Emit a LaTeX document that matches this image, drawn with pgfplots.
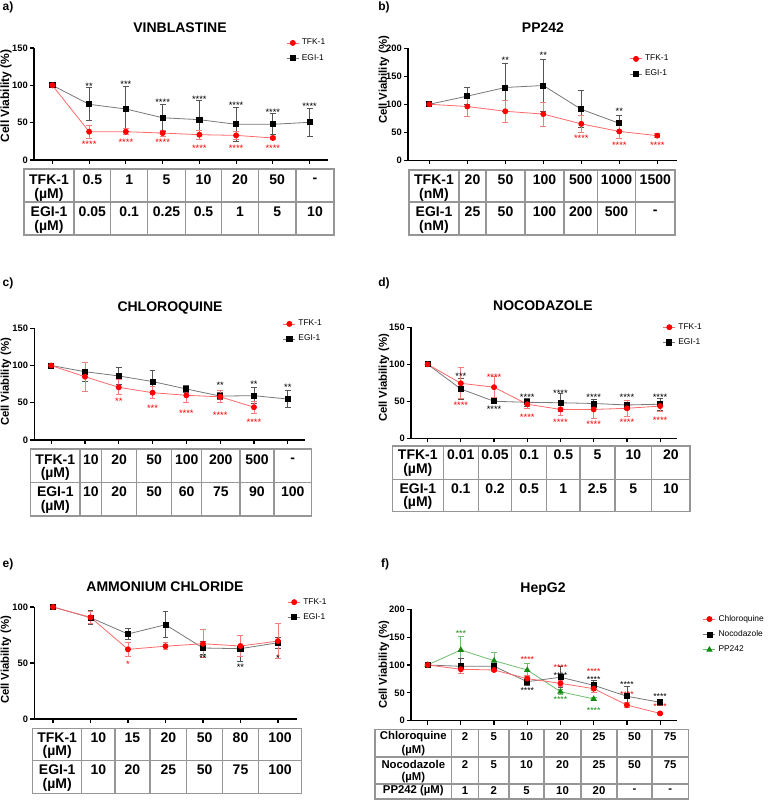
\documentclass[border=0pt]{standalone}
\usepackage{pgfplots}
\pgfplotsset{compat=1.18}
\usepackage{fontspec}
\setmainfont{Liberation Sans}
\definecolor{lred}{RGB}{255,105,105}
\definecolor{ered}{RGB}{245,125,125}
\definecolor{lgray}{RGB}{120,120,120}
\definecolor{egray}{RGB}{85,85,85}
\definecolor{pgreen}{RGB}{20,140,20}
\definecolor{lgreen}{RGB}{110,190,110}
\definecolor{tline}{RGB}{150,150,150}
\newcommand\tf{\fontsize{10.5}{12}\selectfont\bfseries}
\newcommand\tff{\fontsize{8.5}{10}\selectfont\bfseries}
\pgfplotsset{
 cv/.style={scale only axis, anchor=south west, axis lines*=left, axis line style={line width=1.1pt}, tick align=outside, major tick length=3pt, tick style={black, line width=0.9pt}, ymin=0, clip=false, /pgf/number format/assume math mode=true, yticklabel style={font=\bfseries\fontsize{7}{8}\selectfont, inner sep=1.5pt}, xticklabels={}, reverse legend, legend cell align=left, legend style={draw=none, fill=none, font=\fontsize{6.3}{7.5}\selectfont, anchor=north west, row sep=1.5pt}, legend image code/.code={\draw[mark repeat=2,mark phase=2] plot coordinates {(0pt,0pt)(4.5pt,0pt)(9pt,0pt)};}},
 tfk/.style={color=lred, line width=0.6pt, mark=*, mark size=1.9pt, mark options={solid, fill=red, draw=red}, error bars/y dir=both, error bars/y explicit, error bars/error bar style={ered, line width=0.6pt}, error bars/error mark options={rotate=90, ered, mark size=2.2pt, line width=0.6pt}},
 egi/.style={color=lgray, line width=0.6pt, mark=square*, mark size=1.9pt, mark options={solid, fill=black, draw=black}, error bars/y dir=both, error bars/y explicit, error bars/error bar style={egray, line width=0.6pt}, error bars/error mark options={rotate=90, egray, mark size=2.2pt, line width=0.6pt}},
 ppg/.style={color=lgreen, line width=0.6pt, mark=triangle*, mark size=2.2pt, mark options={solid, fill=pgreen, draw=pgreen}, error bars/y dir=both, error bars/y explicit, error bars/error bar style={lgreen, line width=0.6pt}, error bars/error mark options={rotate=90, lgreen, mark size=2.2pt, line width=0.6pt}},
}
\tikzset{
 stn/.style={font=\fontsize{7}{7}\selectfont, inner sep=0pt, yshift=-1.5pt},
 stf/.style={font=\fontsize{6.5}{6.5}\selectfont, inner sep=0pt, yshift=-1.4pt},
 tb/.style={draw=tline, line width=0.8pt},
 ttl/.style={font=\fontsize{10.5}{12}\selectfont\bfseries},
 yl/.style={font=\fontsize{8.5}{10}\selectfont\bfseries, rotate=90},
 pl/.style={font=\fontsize{9}{10}\selectfont\bfseries},
}
\begin{document}
\begin{tikzpicture}[x=0.75pt,y=0.75pt]
\useasboundingbox (0,0) rectangle (770,-800);

% ---------------- labels, titles ----------------
\node[pl] at (8,-7) {a)};
\node[pl] at (384,-7) {b)};
\node[pl] at (8,-283) {c)};
\node[pl] at (384,-283) {d)};
\node[pl] at (8,-564) {e)};
\node[pl] at (385,-564) {f)};
\node[ttl] at (180,-28) {VINBLASTINE};
\node[ttl] at (543,-28) {PP242};
\node[ttl] at (170,-308) {CHLOROQUINE};
\node[ttl] at (543,-306) {NOCODAZOLE};
\node[ttl] at (165,-587) {AMMONIUM CHLORIDE};
\node[ttl] at (543,-589) {HepG2};
\node[yl, font=\fontsize{9}{10}\selectfont\bfseries] at (6,-96) {Cell Viability (\%)};
\node[yl] at (384,-80) {Cell Viability (\%)};
\node[yl] at (6,-382) {Cell Viability (\%)};
\node[yl] at (384,-378) {Cell Viability (\%)};
\node[yl] at (6,-660) {Cell Viability (\%)};
\node[yl] at (384,-665) {Cell Viability (\%)};

% ---------------- a) VINBLASTINE ----------------
\begin{axis}[cv, at={(25.5pt,-120pt)}, width=220.5pt, height=84pt, xmin=-0.5, xmax=7.5, ymax=150, ytick={0,50,100,150}, xtick={0,...,7}, legend style={at={(0.844,1.13)}}]
\addplot[egi] coordinates {(0,100) (1,74.6) +- (0,22) (2,68.3) +- (0,30) (3,56.6) +- (0,18.5) (4,54) +- (0,26) (5,47.8) +- (0,22.5) (6,47.8) +- (0,14) (7,50.5) +- (0,18.5)};
\addplot[tfk] coordinates {(0,100) (1,37.9) +- (0,9) (2,37.9) +- (0,4) (3,36.1) +- (0,4) (4,33.9) +- (0,6.2) (5,33) +- (0,5) (6,29.5) +- (0,2.5)};
\legend{EGI-1,TFK-1}
\node[stn] at (axis cs:1,101.7) {**};
\node[stn] at (axis cs:2,103.5) {***};
\node[stn] at (axis cs:3,79.4) {****};
\node[stn] at (axis cs:4,84) {****};
\node[stn] at (axis cs:5,75.4) {****};
\node[stn] at (axis cs:6,67) {****};
\node[stn] at (axis cs:7,75) {****};
\node[stn,text=red] at (axis cs:1,23.7) {****};
\node[stn,text=red] at (axis cs:2,25.9) {****};
\node[stn,text=red] at (axis cs:3,25.9) {****};
\node[stn,text=red] at (axis cs:4,18.7) {****};
\node[stn,text=red] at (axis cs:5,18.7) {****};
\node[stn,text=red] at (axis cs:6,18.7) {****};
\end{axis}

% ---------------- b) PP242 ----------------
\begin{axis}[cv, at={(306pt,-120.2pt)}, width=201.5pt, height=84pt, xmin=-0.56, xmax=6.51, ymax=200, ytick={0,50,100,150,200}, xtick={0,...,6}, legend style={at={(0.809,0.99)}}]
\addplot[egi] coordinates {(0,100) (1,114.5) +- (0,15.5) (2,130) +- (0,43) (3,133.5) +- (0,46.5) (4,91) +- (0,33) (5,66) +- (0,15)};
\addplot[tfk] coordinates {(0,100) (1,96) +- (0,18) (2,87.5) +- (0,20) (3,82.5) +- (0,21.5) (4,65) +- (0,16) (5,51.5) +- (0,13) (6,44) +- (0,4)};
\legend{EGI-1,TFK-1}
\node[stn] at (axis cs:2,182) {**};
\node[stn] at (axis cs:3,191) {**};
\node[stn] at (axis cs:5,91) {**};
\node[stn,text=red] at (axis cs:4,43) {****};
\node[stn,text=red] at (axis cs:5,31) {****};
\node[stn,text=red] at (axis cs:6,31) {****};
\end{axis}

% ---------------- c) CHLOROQUINE ----------------
\begin{axis}[cv, at={(25.7pt,-330pt)}, width=202.8pt, height=83.8pt, xmin=-0.5, xmax=7.5, ymax=150, ytick={0,50,100,150}, xtick={0,...,7}, legend style={at={(0.904,1.124)}}]
\addplot[egi] coordinates {(0,100) (1,91.7) +- (0,12.5) (2,86) +- (0,11) (3,78.5) +- (0,14.5) (4,68.5) +- (0,4.5) (5,59) +- (0,5) (6,59.5) +- (0,11) (7,55) +- (0,11)};
\addplot[tfk] coordinates {(0,100) (1,85) +- (0,19.5) (2,70.7) +- (0,10) (3,63.5) +- (0,8) (4,60) +- (0,10) (5,58) +- (0,8) (6,44) +- (0,8)};
\legend{EGI-1,TFK-1}
\node[stn] at (axis cs:5,76) {**};
\node[stn] at (axis cs:6,77) {**};
\node[stn] at (axis cs:7,74) {**};
\node[stn,text=red] at (axis cs:2,54.6) {**};
\node[stn,text=red] at (axis cs:3,44.7) {***};
\node[stn,text=red] at (axis cs:4,39) {****};
\node[stn,text=red] at (axis cs:5,36) {****};
\node[stn,text=red] at (axis cs:6,27) {****};
\end{axis}

% ---------------- d) NOCODAZOLE ----------------
\begin{axis}[cv, at={(308.25pt,-328.7pt)}, width=199.3pt, height=83.25pt, xmin=-0.5, xmax=7.5, ymax=150, ytick={0,50,100,150}, xtick={0,...,7}, legend style={at={(0.932,1.086)}}]
\addplot[egi] coordinates {(0,100) (1,66.6) +- (0,14) (2,50) +- (0,3) (3,48.6) +- (0,5) (4,48) +- (0,12) (5,47) +- (0,5) (6,45) +- (0,6) (7,46) +- (0,8)};
\addplot[tfk] coordinates {(0,100) (1,74.3) +- (0,21) (2,69) +- (0,14) (3,46) +- (0,6) (4,39) +- (0,8) (5,39) +- (0,11.5) (6,40.5) +- (0,11) (7,43.5) +- (0,7)};
\legend{EGI-1,TFK-1}
\node[stn] at (axis cs:1,87) {***};
\node[stn] at (axis cs:2,42) {****};
\node[stn] at (axis cs:3,58.5) {****};
\node[stn] at (axis cs:4,64) {****};
\node[stn] at (axis cs:5,58.5) {****};
\node[stn] at (axis cs:6,58) {****};
\node[stn] at (axis cs:7,58.5) {****};
\node[stn,text=red] at (axis cs:1,47) {****};
\node[stn,text=red] at (axis cs:2,85.5) {****};
\node[stn,text=red] at (axis cs:3,31.5) {****};
\node[stn,text=red] at (axis cs:4,24) {****};
\node[stn,text=red] at (axis cs:5,21) {****};
\node[stn,text=red] at (axis cs:6,24) {****};
\node[stn,text=red] at (axis cs:7,27) {****};
\end{axis}

% ---------------- e) AMMONIUM CHLORIDE ----------------
\begin{axis}[cv, at={(25.7pt,-539.25pt)}, width=196.8pt, height=84pt, xmin=-0.5, xmax=6.5, ymax=100, ytick={0,50,100}, xtick={0,...,6}, legend style={at={(0.95,1.128)}}]
\addplot[egi] coordinates {(0,100) (1,90.5) +- (0,6.2) (2,75.9) +- (0,4.7) (3,84.2) +- (0,11.5) (4,63.4) +- (0,6) (5,62.8) +- (0,11.5) (6,68.1) +- (0,5)};
\addplot[tfk] coordinates {(0,100) (1,90.8) +- (0,5) (2,62.2) +- (0,6) (3,65) +- (0,3) (4,67.2) +- (0,12.5) (5,65.2) +- (0,9.5) (6,69.6) +- (0,15.5)};
\legend{EGI-1,TFK-1}
\node[stn,text=red] at (axis cs:2,50.3) {*};
\node[stn] at (axis cs:4,56) {**};
\node[stn] at (axis cs:5,48) {**};
\node[stn] at (axis cs:6,56) {*};
\end{axis}

% ---------------- f) HepG2 ----------------
\begin{axis}[cv, at={(308.25pt,-540.5pt)}, width=199.3pt, height=83.55pt, xmin=-0.5, xmax=7.5, ymax=200, ytick={0,50,100,150,200}, xtick={0,...,7}, legend style={at={(1.083,0.999)}}]
\addplot[ppg] coordinates {(0,100) (1,127) +- (0,24) (2,107.7) +- (0,15) (3,91) +- (0,12) (4,52) +- (0,4) (5,39) +- (0,2)};
\addplot[egi] coordinates {(0,100) (1,97.6) +- (0,13.5) (2,97.6) +- (0,5) (3,70) +- (0,6) (4,78) +- (0,19) (5,63.5) +- (0,8) (6,43.8) +- (0,17) (7,33) +- (0,5)};
\addplot[tfk] coordinates {(0,100) (1,92.3) +- (0,8) (2,91) +- (0,3) (3,75.5) +- (0,6) (4,67) +- (0,6) (5,57.5) +- (0,7) (6,28) +- (0,5) (7,13) +- (0,2)};
\legend{PP242,Nocodazole,Chloroquine}
\node[stf,text=pgreen] at (axis cs:1,160) {***};
\node[stf,text=pgreen] at (axis cs:4,41.3) {****};
\node[stf,text=pgreen] at (axis cs:5,22) {****};
\node[stf,text=red] at (axis cs:3,113) {****};
\node[stf,text=red] at (axis cs:4,98.5) {****};
\node[stf,text=red] at (axis cs:5,91) {****};
\node[stf,text=red] at (axis cs:6,50) {****};
\node[stf,text=red] at (axis cs:7,29.5) {****};
\node[stf] at (axis cs:3,58) {****};
\node[stf] at (axis cs:4,85) {****};
\node[stf] at (axis cs:5,76.7) {****};
\node[stf] at (axis cs:6,69) {****};
\node[stf] at (axis cs:7,46) {****};
\end{axis}

% ---------------- tables ----------------
% a
\draw[tb] (24,-169) rectangle (334,-235);
\draw[tb] (24,-202) -- (334,-202);
\foreach \x in {74,110.7,147.7,185.3,221.7,258.3,296} \draw[tb] (\x,-169) -- (\x,-235);
\node[font=\tf] at (49,-180) {TFK-1};
\node[font=\tf] at (49,-195) {(µM)};
\node[font=\tf] at (49,-212) {EGI-1};
\node[font=\tf] at (49,-227) {(µM)};
\foreach \x/\t in {92.35/0.5,129.2/1,166.5/5,203.5/10,240/20,277.15/50,315/-} \node[font=\tf] at (\x,-180) {\t};
\foreach \x/\t in {92.35/0.05,129.2/0.1,166.5/0.25,203.5/0.5,240/1,277.15/5,315/10} \node[font=\tf] at (\x,-212) {\t};
% b
\draw[tb] (409,-170) rectangle (675,-235);
\draw[tb] (409,-202) -- (675,-202);
\foreach \x in {459,486,525,564,597.3,635.7} \draw[tb] (\x,-170) -- (\x,-235);
\node[font=\tf] at (434,-180) {TFK-1};
\node[font=\tf] at (434,-195) {(nM)};
\node[font=\tf] at (434,-212) {EGI-1};
\node[font=\tf] at (434,-227) {(nM)};
\foreach \x/\t in {472.5/20,505.5/50,544.5/100,580.7/500,616.5/1000,655.3/1500} \node[font=\tf] at (\x,-180) {\t};
\foreach \x/\t in {472.5/25,505.5/50,544.5/100,580.7/200,616.5/500,655.3/-} \node[font=\tf] at (\x,-212) {\t};
% c
\draw[tb] (30.7,-449) rectangle (311.7,-516);
\draw[tb] (30.7,-482.3) -- (311.7,-482.3);
\foreach \x in {80,101.7,136.7,171.7,201.7,240,274} \draw[tb] (\x,-449) -- (\x,-516);
\node[font=\tf] at (55.3,-460) {TFK-1};
\node[font=\tf] at (55.3,-474) {(µM)};
\node[font=\tf] at (55.3,-492) {EGI-1};
\node[font=\tf] at (55.3,-507) {(µM)};
\foreach \x/\t in {90.8/10,119.2/20,154.2/50,186.7/100,220.8/200,257/500,292.8/-} \node[font=\tf] at (\x,-460) {\t};
\foreach \x/\t in {90.8/10,119.2/20,154.2/50,186.7/60,220.8/75,257/90,292.8/100} \node[font=\tf] at (\x,-492) {\t};
% d
\draw[tb] (392.3,-446) rectangle (690,-511.7);
\draw[tb] (392.3,-479.3) -- (690,-479.3);
\foreach \x in {443.3,478.3,511.7,546.7,580,615,651.7} \draw[tb] (\x,-446) -- (\x,-511.7);
\node[font=\tf] at (417.8,-455) {TFK-1};
\node[font=\tf] at (417.8,-470) {(µM)};
\node[font=\tf] at (417.8,-488.3) {EGI-1};
\node[font=\tf] at (417.8,-503.3) {(µM)};
\foreach \x/\t in {460.8/0.01,495/0.05,529.2/0.1,563.3/0.5,597.5/5,633.3/10,670.8/20} \node[font=\tf] at (\x,-455) {\t};
\foreach \x/\t in {460.8/0.1,495/0.2,529.2/0.5,563.3/1,597.5/2.5,633.3/5,670.8/10} \node[font=\tf] at (\x,-488.3) {\t};
% e
\draw[tb] (32.7,-728.3) rectangle (301.7,-793.3);
\draw[tb] (32.7,-760.7) -- (301.7,-760.7);
\foreach \x in {81.7,115,150,186.7,222.7,258.3} \draw[tb] (\x,-728.3) -- (\x,-793.3);
\node[font=\tf] at (57.2,-737.3) {TFK-1};
\node[font=\tf] at (57.2,-751.7) {(µM)};
\node[font=\tf] at (57.2,-769.3) {EGI-1};
\node[font=\tf] at (57.2,-785) {(µM)};
\foreach \x/\t in {98.3/10,132.5/15,168.3/20,204.7/50,240.5/80,280/100} \node[font=\tf] at (\x,-737.3) {\t};
\foreach \x/\t in {98.3/10,132.5/20,168.3/25,204.7/50,240.5/75,280/100} \node[font=\tf] at (\x,-769.3) {\t};
% f
\draw[tb] (375,-729.3) rectangle (688.3,-799);
\draw[tb] (375,-757) -- (688.3,-757);
\draw[tb] (375,-784) -- (688.3,-784);
\foreach \x in {451.7,478.3,509,544,581,617,652} \draw[tb] (\x,-729.3) -- (\x,-799);
\node[font=\tff] at (413.3,-736.7) {Chloroquine};
\node[font=\tff] at (413.3,-750.7) {(µM)};
\node[font=\tff] at (413.3,-764.3) {Nocodazole};
\node[font=\tff] at (413.3,-777.7) {(µM)};
\node[font=\tff] at (413.3,-791) {PP242 (µM)};
\foreach \x/\t in {465/2,493.7/5,526.5/10,562.5/20,599/25,634.5/50,670.2/75} \node[font=\tff] at (\x,-736.7) {\t};
\foreach \x/\t in {465/2,493.7/5,526.5/10,562.5/20,599/25,634.5/50,670.2/75} \node[font=\tff] at (\x,-764.3) {\t};
\foreach \x/\t in {465/1,493.7/2,526.5/5,562.5/10,599/20,634.5/-,670.2/-} \node[font=\tff] at (\x,-791) {\t};
\end{tikzpicture}
\end{document}
